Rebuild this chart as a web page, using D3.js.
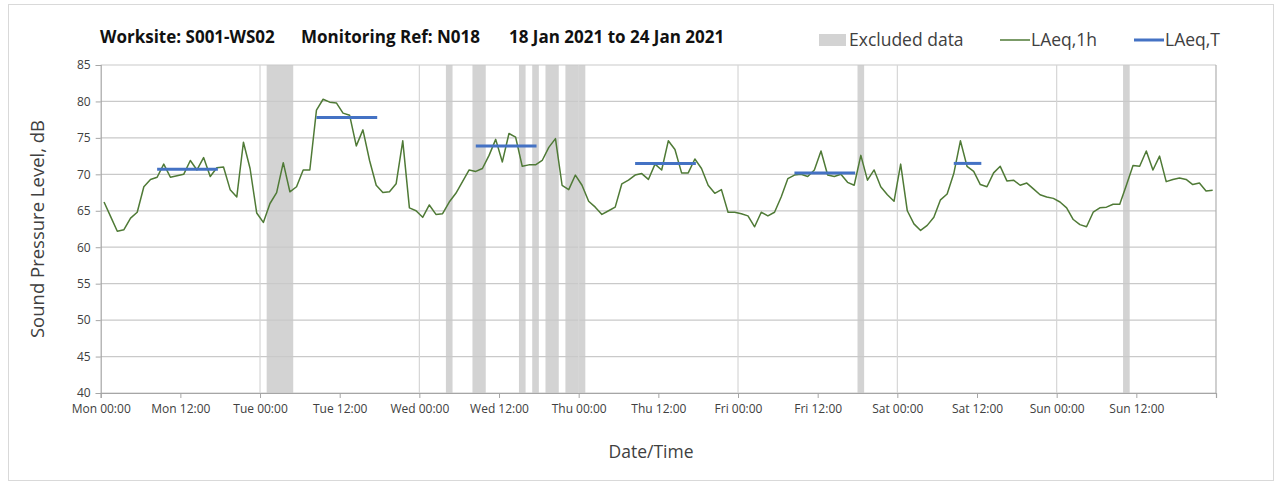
<!DOCTYPE html>
<html>
<head>
<meta charset="utf-8">
<script src="https://cdn.jsdelivr.net/npm/d3@7/dist/d3.min.js"></script>
<style>
  html, body { margin: 0; padding: 0; background: #fff; }
  svg { display: block; }
  text { font-family: "Open Sans", "Lato", sans-serif; }
</style>
</head>
<body>
<svg id="chart" width="1282" height="486"></svg>
<script>
// ---- Data ----
const dayNames = ["Mon", "Tue", "Wed", "Thu", "Fri", "Sat", "Sun"];
const tickHours = [0, 12, 24, 36, 48, 60, 72, 84, 96, 108, 120, 132, 144, 156, 168];
const yTicks = [40, 45, 50, 55, 60, 65, 70, 75, 80, 85];

// LAeq,1h hourly values (hour 0 = Mon 00:00)
const laeq1h = [
  66.2, 64.2, 62.2, 62.4, 64.0, 64.8, 68.3, 69.3, 69.6, 71.4, 69.6, 69.8,
  70.0, 71.9, 70.6, 72.3, 69.7, 70.9, 71.0, 67.9, 66.9, 74.4, 70.8, 64.7,
  63.4, 66.0, 67.5, 71.6, 67.6, 68.3, 70.6, 70.6, 78.8, 80.3, 79.9, 79.8,
  78.4, 78.1, 73.9, 76.1, 71.9, 68.5, 67.5, 67.6, 68.7, 74.6, 65.4, 65.0,
  64.1, 65.8, 64.5, 64.6, 66.2, 67.4, 69.0, 70.6, 70.4, 70.8, 72.6, 74.8,
  71.7, 75.6, 75.1, 71.1, 71.3, 71.3, 71.9, 73.7, 74.9, 68.5, 67.9, 69.9,
  68.5, 66.3, 65.5, 64.5, 65.0, 65.5, 68.7, 69.2, 69.9, 70.1, 69.3, 71.4,
  70.6, 74.6, 73.4, 70.2, 70.2, 72.1, 70.8, 68.5, 67.4, 67.9, 64.8, 64.8,
  64.6, 64.3, 62.8, 64.8, 64.3, 64.8, 66.9, 69.4, 69.9, 70.0, 69.7, 70.6,
  73.2, 69.9, 69.7, 70.0, 68.9, 68.5, 72.6, 69.2, 70.6, 68.3, 67.2, 66.3,
  71.4, 65.0, 63.2, 62.3, 63.0, 64.1, 66.5, 67.3, 70.1, 74.6, 71.1, 70.4,
  68.6, 68.3, 70.2, 71.1, 69.1, 69.2, 68.5, 68.8, 68.0, 67.2, 66.9, 66.7,
  66.2, 65.4, 63.8, 63.1, 62.8, 64.8, 65.4, 65.5, 65.9, 65.9, 68.5, 71.2,
  71.1, 73.2, 70.6, 72.5, 69.0, 69.3, 69.5, 69.3, 68.6, 68.8, 67.7, 67.8
];

// Excluded data hours
const excludedHours = [25, 26, 27, 28, 52, 56, 57, 63, 65, 67, 68, 70, 71, 72, 114, 154];

// LAeq,T periods (first hour, last hour, level)
const periodStart = [8, 32, 56, 80, 104, 128];
const periodEnd   = [17, 41, 65, 89, 113, 132];
const periodLevel = [70.7, 77.8, 73.9, 71.5, 70.2, 71.5];

const titleParts = ["Worksite: S001-WS02", "Monitoring Ref: N018", "18 Jan 2021 to 24 Jan 2021"];
const legendLabels = ["Excluded data", "LAeq,1h", "LAeq,T"];

// ---- Chart ----
(function () {
const svg = d3.select("#chart");
const pL = 100.7, pR = 1216, pT = 65, pB = 393;
const x = d3.scaleLinear().domain([0, 168]).range([pL, pR]);
const y = d3.scaleLinear().domain([40, 85]).range([pB, pT]);

const green = "#4f7a36", blue = "#4472c4", band = "#d3d3d3";
const textCol = "#404040";

// outer border
svg.append("rect").attr("x", 8.5).attr("y", 4.5).attr("width", 1265).attr("height", 476)
  .attr("fill", "none").attr("stroke", "#d9d9d9");

// merge consecutive excluded hours into runs
const runs = [];
excludedHours.forEach(h => {
  const last = runs[runs.length - 1];
  if (last && last[1] === h) last[1] = h + 1; else runs.push([h, h + 1]);
});
svg.append("g").selectAll("rect").data(runs).join("rect")
  .attr("x", d => x(d[0])).attr("width", d => x(d[1]) - x(d[0]))
  .attr("y", pT).attr("height", pB - pT)
  .attr("fill", band);

// horizontal gridlines
svg.append("g").selectAll("line").data(yTicks).join("line")
  .attr("x1", pL).attr("x2", pR)
  .attr("y1", d => y(d)).attr("y2", d => y(d))
  .attr("stroke", "#c9c9c9").attr("stroke-width", 1.2);

// vertical gridlines (day boundaries)
svg.append("g").selectAll("line").data(d3.range(24, 168, 24)).join("line")
  .attr("x1", d => x(d)).attr("x2", d => x(d))
  .attr("y1", pT).attr("y2", pB)
  .attr("stroke", "#d6d6d6").attr("stroke-width", 1.2);

// right border
svg.append("line").attr("x1", pR).attr("x2", pR).attr("y1", pT).attr("y2", pB)
  .attr("stroke", "#b0b0b0").attr("stroke-width", 1.2);

// y axis
const yAxis = d3.axisLeft(y).tickValues(yTicks).tickSize(5).tickPadding(5);
const gy = svg.append("g").attr("transform", `translate(${pL},0)`).call(yAxis);
gy.select(".domain").attr("stroke", "#a6a6a6").attr("stroke-width", 1.2);
gy.selectAll(".tick line").attr("stroke", "#a6a6a6");
gy.selectAll("text").attr("fill", textCol).style("font-size", "12px").attr("font-family", "Open Sans");

// x axis
const xAxis = d3.axisBottom(x).tickValues(tickHours).tickSize(5).tickPadding(6)
  .tickFormat(d => d >= 168 ? "" : dayNames[Math.floor(d / 24)] + " " + (d % 24 === 0 ? "00:00" : "12:00"));
const gx = svg.append("g").attr("transform", `translate(0,${pB})`).call(xAxis);
gx.select(".domain").attr("stroke", "#a6a6a6").attr("stroke-width", 1.2);
gx.selectAll(".tick line").attr("stroke", "#a6a6a6");
gx.selectAll("text").attr("fill", textCol).style("font-size", "12px").attr("font-family", "Open Sans");

// LAeq,1h line
const line = d3.line().x((d, i) => x(i + 0.5)).y(d => y(d));
svg.append("path").datum(laeq1h).attr("d", line)
  .attr("fill", "none").attr("stroke", green).attr("stroke-width", 1.5)
  .attr("stroke-linejoin", "round");

// LAeq,T segments
svg.append("g").selectAll("line").data(periodLevel).join("line")
  .attr("x1", (d, i) => x(periodStart[i] + 0.5))
  .attr("x2", (d, i) => x(periodEnd[i] + 0.5) + 1)
  .attr("y1", d => y(d)).attr("y2", d => y(d))
  .attr("stroke", blue).attr("stroke-width", 3);

// title
const titleX = [100, 301, 509];
svg.append("g").selectAll("text").data(titleParts).join("text")
  .attr("x", (d, i) => titleX[i]).attr("y", 43)
  .attr("font-weight", "bold").style("font-size", "17px").attr("fill", "#111")
  .text(d => d);

// legend
svg.append("rect").attr("x", 819).attr("y", 34).attr("width", 27).attr("height", 12).attr("fill", band);
svg.append("line").attr("x1", 1000).attr("x2", 1030).attr("y1", 40).attr("y2", 40)
  .attr("stroke", green).attr("stroke-width", 1.5);
svg.append("line").attr("x1", 1134).attr("x2", 1164).attr("y1", 40).attr("y2", 40)
  .attr("stroke", blue).attr("stroke-width", 3);
const legX = [849, 1031, 1165];
svg.append("g").selectAll("text").data(legendLabels).join("text")
  .attr("x", (d, i) => legX[i]).attr("y", 46)
  .style("font-size", "17.5px").attr("fill", textCol)
  .text(d => d);

// axis titles
svg.append("text").attr("transform", `translate(44,${(pT + pB) / 2}) rotate(-90)`)
  .attr("text-anchor", "middle").style("font-size", "18.5px").attr("fill", textCol)
  .text("Sound Pressure Level, dB");
svg.append("text").attr("x", 651).attr("y", 458)
  .attr("text-anchor", "middle").style("font-size", "17.5px").attr("fill", textCol)
  .text("Date/Time");
})();
</script>
</body>
</html>
